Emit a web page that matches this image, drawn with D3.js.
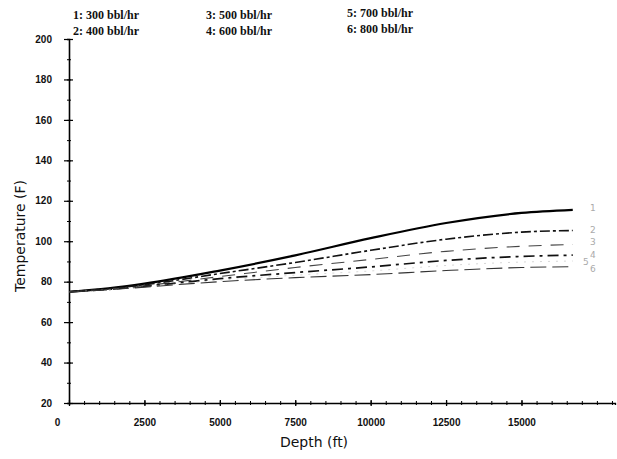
<!DOCTYPE html>
<html>
<head>
<meta charset="utf-8">
<script src="https://cdn.jsdelivr.net/npm/d3@7"></script>
<style>
  body { margin: 0; background: #fff; }
  svg { display: block; }
</style>
</head>
<body>
<div id="chart"></div>
<script>
// depth points (ft) and temperature (F) for each flow rate
const depths = [0, 1300, 2500, 5000, 7500, 10000, 12500, 15000, 16700];
const temp300 = [75, 76.7, 79, 85.5, 93, 101.5, 109, 114, 115.5];
const temp400 = [75, 76.5, 78.5, 84, 89.5, 95.5, 101, 104.5, 105.3];
const temp500 = [75, 76.3, 78, 82.5, 87, 91, 95, 97.5, 98.4];
const temp600 = [75, 76.2, 77.7, 81.5, 84.5, 87.3, 90.5, 92.5, 93.1];
const temp700 = [75, 76.1, 77.5, 80.7, 83.2, 85.3, 88, 89.7, 90.2];
const temp800 = [75, 76, 77.3, 80, 82, 83.5, 85.5, 87, 87.4];
const seriesNames = ['1', '2', '3', '4', '5', '6'];
const legendLabels = ['1: 300 bbl/hr', '2: 400 bbl/hr', '3: 500 bbl/hr', '4: 600 bbl/hr', '5: 700 bbl/hr', '6: 800 bbl/hr'];
const xTicks = [0, 2500, 5000, 7500, 10000, 12500, 15000];
const yTicks = [20, 40, 60, 80, 100, 120, 140, 160, 180, 200];

let width = 617,
    height = 459;

let svg = d3.select('#chart')
  .append('svg')
  .attr('xmlns', 'http://www.w3.org/2000/svg')
  .attr('width', width)
  .attr('height', height);

let x = d3.scaleLinear().domain([0, 18100]).range([69, 615]);
let y = d3.scaleLinear().domain([20, 200]).range([403, 39]);

// axes
let xAxis = svg.append('g')
  .attr('transform', 'translate(0,' + y(20) + ')')
  .call(d3.axisBottom(x).tickValues(d3.range(0, 18001, 500)).tickSize(2).tickFormat(''));
xAxis.select('.domain').attr('stroke-width', 1.3);
xAxis.selectAll('.tick line').attr('y1', -2).attr('stroke-width', 1);

svg.append('g')
  .attr('transform', 'translate(0,' + y(20) + ')')
  .call(d3.axisBottom(x).tickValues(xTicks).tickSize(3).tickPadding(13)
    .tickFormat(d => d))
  .call(g => g.select('.domain').remove())
  .call(g => g.selectAll('.tick line').attr('y1', -3).attr('stroke-width', 1.3))
  .call(g => g.selectAll('.tick text')
    .attr('font-family', 'Liberation Sans, sans-serif')
    .attr('font-weight', 'bold')
    .attr('font-size', 10)
    .attr('fill', '#111')
    .attr('dx', d => d === 0 ? -12 : 0));

let yAxis = svg.append('g')
  .attr('transform', 'translate(' + x(0) + ',0)')
  .call(d3.axisLeft(y).tickValues(d3.range(20, 201, 10)).tickSize(2).tickFormat(''));
yAxis.select('.domain').attr('stroke-width', 1.6);
yAxis.selectAll('.tick line').attr('x1', 2);

svg.append('g')
  .attr('transform', 'translate(' + x(0) + ',0)')
  .call(d3.axisLeft(y).tickValues(yTicks).tickSize(5).tickPadding(12).tickFormat(d => d))
  .call(g => g.select('.domain').remove())
  .call(g => g.selectAll('.tick line').attr('x1', 4).attr('stroke-width', 1.2))
  .call(g => g.selectAll('.tick text')
    .attr('font-family', 'Liberation Sans, sans-serif')
    .attr('font-weight', 'bold')
    .attr('font-size', 10)
    .attr('fill', '#111'));

// axis titles
svg.append('text')
  .attr('x', 314).attr('y', 447)
  .attr('text-anchor', 'middle')
  .attr('font-family', 'DejaVu Sans, sans-serif')
  .attr('font-size', 14)
  .attr('fill', '#111')
  .text('Depth (ft)');

svg.append('text')
  .attr('transform', 'translate(25,236) rotate(-90)')
  .attr('text-anchor', 'middle')
  .attr('font-family', 'DejaVu Sans, sans-serif')
  .attr('font-size', 14)
  .attr('fill', '#111')
  .text('Temperature (F)');

// curves
let series = [temp300, temp400, temp500, temp600, temp700, temp800];
let styles = [
  { w: 2.2, dash: null, c: '#000' },
  { w: 1.6, dash: '10,3,3,3', c: '#111' },
  { w: 1.1, dash: '13,9', c: '#444' },
  { w: 1.7, dash: '11,5,3,5', c: '#111' },
  { w: 0.6, dash: '2,6', c: '#bbb' },
  { w: 1.1, dash: '16,6', c: '#333' }
];

let line = d3.line()
  .x(d => x(d[0]))
  .y(d => y(d[1]))
  .curve(d3.curveMonotoneX);

svg.selectAll('.curve')
  .data(series)
  .enter()
  .append('path')
  .attr('class', 'curve')
  .attr('d', d => line(depths.map((dp, i) => [dp, d[i]])))
  .attr('fill', 'none')
  .attr('stroke', (d, i) => styles[i].c)
  .attr('stroke-width', (d, i) => styles[i].w)
  .attr('stroke-dasharray', (d, i) => styles[i].dash);

// faint curve labels at the right end
let labelY = [208, 230, 242, 255, 262, 269];
svg.selectAll('.clabel')
  .data(seriesNames)
  .enter()
  .append('text')
  .attr('x', (d, i) => i === 4 ? 583 : 590)
  .attr('y', (d, i) => labelY[i] + 3)
  .attr('font-family', 'DejaVu Sans, sans-serif')
  .attr('font-size', 9)
  .attr('fill', '#aaa')
  .text(d => d);

// legend at top
let legendX = [73, 73, 206, 206, 347, 347];
let legendY = [19, 35, 19, 35, 17, 33];
svg.selectAll('.legend')
  .data(legendLabels)
  .enter()
  .append('text')
  .attr('x', (d, i) => legendX[i])
  .attr('y', (d, i) => legendY[i])
  .attr('font-family', 'Liberation Serif, serif')
  .attr('font-weight', 'bold')
  .attr('font-size', 12)
  .attr('fill', '#111')
  .text(d => d);
</script>
</body>
</html>
